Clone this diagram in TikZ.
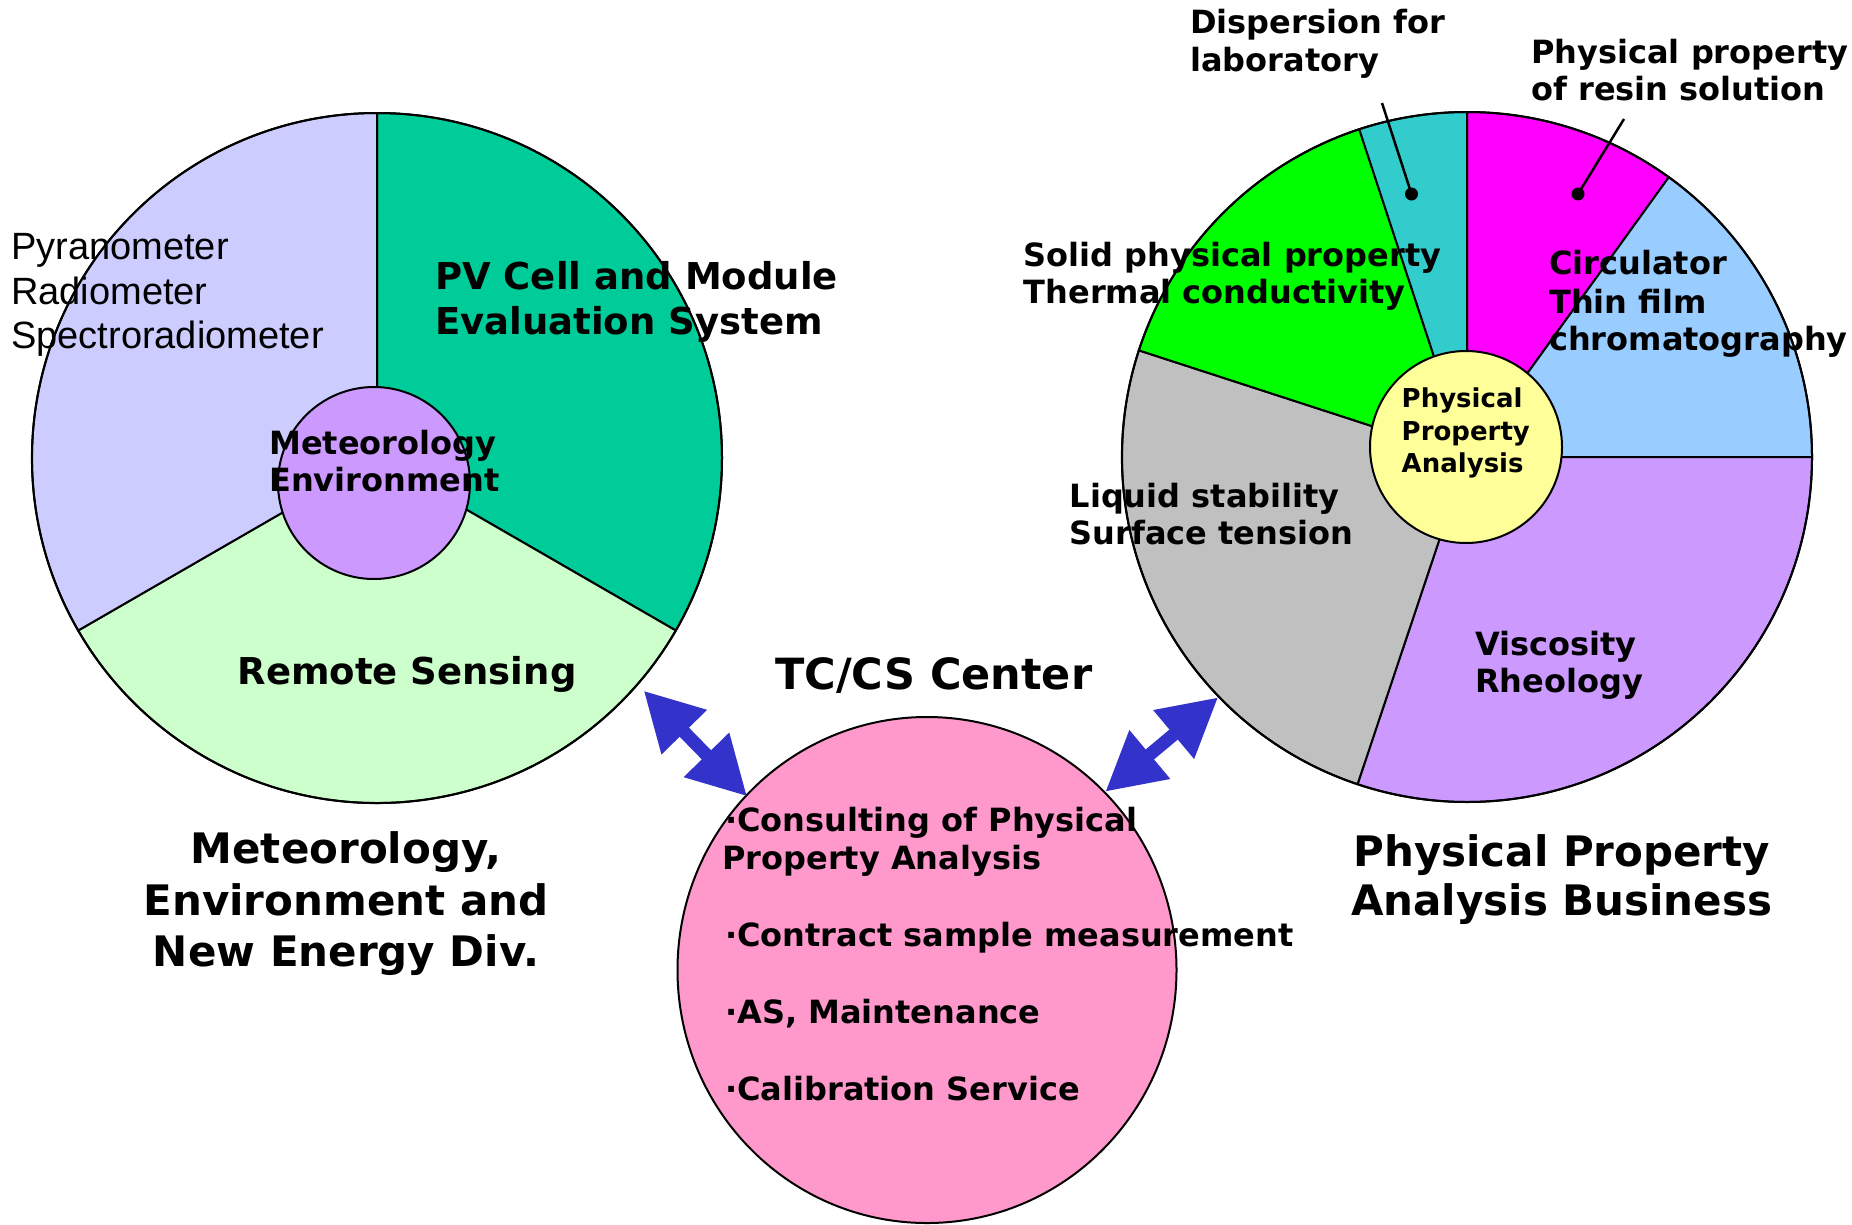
\documentclass[tikz,border=0pt]{standalone}
\usepackage{fontspec}
\setmainfont{DejaVu Sans}
\newfontfamily\arialfont{Liberation Sans}
\usetikzlibrary{arrows.meta,shapes.geometric}
\definecolor{clav}{HTML}{CCCCFF}
\definecolor{cteal}{HTML}{00CC99}
\definecolor{cmint}{HTML}{CCFFCC}
\definecolor{cviolet}{HTML}{CC99FF}
\definecolor{cmag}{HTML}{FF00FF}
\definecolor{csky}{HTML}{99CCFF}
\definecolor{cgray}{HTML}{C0C0C0}
\definecolor{cgreen}{HTML}{00FF00}
\definecolor{ccyan}{HTML}{33CCCC}
\definecolor{cyel}{HTML}{FFFF99}
\definecolor{cpink}{HTML}{FF99CC}
\definecolor{carrow}{HTML}{3333CC}
\tikzset{
  slice/.style={draw=black, line width=2pt, line join=round},
  ring/.style={circle, draw=black, line width=2pt, inner sep=0pt},
  lab/.style={anchor=base west, inner sep=0pt, font=\bfseries\fontsize{32}{38}\selectfont},
  labbig/.style={anchor=base west, inner sep=0pt, font=\bfseries\fontsize{37}{44}\selectfont},
  labsmall/.style={anchor=base west, inner sep=0pt, font=\bfseries\fontsize{26}{32}\selectfont},
  labthin/.style={anchor=base west, inner sep=0pt, font=\arialfont\fontsize{38}{45}\selectfont},
  title/.style={anchor=base, inner sep=0pt, font=\bfseries\fontsize{42}{50}\selectfont},
  leader/.style={draw=black, line width=2.5pt},
  dot/.style={circle, fill=black, inner sep=0pt, minimum size=13pt},
  dblarrow/.style={draw=carrow, line width=13pt,
    {Triangle[length=58pt 0 0, width=60pt 0 0]}-{Triangle[length=58pt 0 0, width=60pt 0 0]}},
}
\begin{document}
\begin{tikzpicture}[x=1pt, y=-1pt]
\useasboundingbox (0,0) rectangle (1852,1224);
\fill[white] (0,0) rectangle (1852,1224);

% ---------- left pie ----------
\filldraw[slice, fill=cteal] (377,458) -- +(270:345) arc[start angle=270, end angle=390, radius=345] -- cycle;
\filldraw[slice, fill=cmint] (377,458) -- +(30:345) arc[start angle=30, end angle=150, radius=345] -- cycle;
\filldraw[slice, fill=clav] (377,458) -- +(150:345) arc[start angle=150, end angle=270, radius=345] -- cycle;
\node[ring, minimum size=690pt] (lpie) at (377,458) {};
\node[ring, fill=cviolet, minimum size=192pt] (linner) at (374,483) {};

% ---------- right pie ----------
\filldraw[slice, fill=cmag] (1467,457) -- +(270:345) arc[start angle=270, end angle=305.8, radius=345] -- cycle;
\filldraw[slice, fill=csky] (1467,457) -- +(305.8:345) arc[start angle=305.8, end angle=360, radius=345] -- cycle;
\filldraw[slice, fill=cviolet] (1467,457) -- +(0:345) arc[start angle=0, end angle=108.5, radius=345] -- cycle;
\filldraw[slice, fill=cgray] (1467,457) -- +(108.5:345) arc[start angle=108.5, end angle=198, radius=345] -- cycle;
\filldraw[slice, fill=cgreen] (1467,457) -- +(198:345) arc[start angle=198, end angle=251.8, radius=345] -- cycle;
\filldraw[slice, fill=ccyan] (1467,457) -- +(251.8:345) arc[start angle=251.8, end angle=270, radius=345] -- cycle;
\node[ring, minimum size=690pt] (rpie) at (1467,457) {};
\node[ring, fill=cyel, minimum size=192pt] (rinner) at (1466,447) {};

% ---------- centre circle ----------
\node[ellipse, draw=black, line width=2pt, inner sep=0pt, fill=cpink,
      minimum width=499pt, minimum height=506pt] (tc) at (927,970) {};

% ---------- arrows ----------
\draw[dblarrow, shorten <=8pt, shorten >=-2pt] (lpie.-41.6) -- (tc.136.5);
\draw[dblarrow] (rpie.224.6) -- (tc.45.4);

% ---------- leaders ----------
\node[dot] (dotcyan) at (1411.5,194) {};
\node[dot] (dotmag) at (1578,194) {};
\coordinate (leadcyan) at (1382,103);
\coordinate (leadmag) at (1624,119);
\draw[leader] (leadcyan) -- (dotcyan.center);
\draw[leader] (leadmag) -- (dotmag.center);

% ---------- left pie texts ----------
\node[labthin] (py1) at (11,259.6) {Pyranometer};
\node[labthin] (py2) at (11,304.5) {Radiometer};
\node[labthin] (py3) at (11,348.6) {Spectroradiometer};
\node[labbig] (pv1) at (435,289.6) {PV Cell and Module};
\node[labbig] (pv2) at (435,334.5) {Evaluation System};
\node[lab] (me1) at (269,454) {Meteorology};
\node[lab] (me2) at (269,491.8) {Environment};
\node[labbig] (rs) at (237.5,684) {Remote Sensing};

% ---------- right pie texts ----------
\node[lab] (di1) at (1190,33.2) {Dispersion for};
\node[lab] (di2) at (1190,71.4) {laboratory};
\node[lab] (re1) at (1531,63.6) {Physical property};
\node[lab] (re2) at (1531,100.7) {of resin solution};
\node[lab] (so1) at (1023.5,266.6) {Solid physical property};
\node[lab] (so2) at (1023.5,303.7) {Thermal conductivity};
\node[lab] (ci1) at (1549,274.4) {Circulator};
\node[lab] (ci2) at (1549,313.4) {Thin film};
\node[lab] (ci3) at (1549,350.1) {chromatography};
\node[lab] (li1) at (1069.5,507.4) {Liquid stability};
\node[lab] (li2) at (1069.5,544.5) {Surface tension};
\node[lab] (vi1) at (1475,655) {Viscosity};
\node[lab] (vi2) at (1475,692.7) {Rheology};
\node[labsmall] (pp1) at (1401.5,407.9) {Physical};
\node[labsmall] (pp2) at (1401.5,440.3) {Property};
\node[labsmall] (pp3) at (1401.5,472.3) {Analysis};

% ---------- centre texts ----------
\node[anchor=base west, inner sep=0pt, font=\bfseries\fontsize{43}{51}\selectfont] (tct) at (775,689.3) {TC/CS Center};
\node[lab] (b1a) at (725,831.3) {·Consulting of Physical};
\node[lab] (b1b) at (722,869.8) {Property Analysis};
\node[lab] (b2) at (725,946.7) {·Contract sample measurement};
\node[lab] (b3) at (725,1023.5) {·AS, Maintenance};
\node[lab] (b4) at (725,1100.4) {·Calibration Service};

% ---------- titles ----------
\node[title] (lt1) at (346,863) {Meteorology,};
\node[title] (lt2) at (346,915) {Environment and};
\node[title] (lt3) at (346,966.7) {New Energy Div.};
\node[title] (rt1) at (1561.7,866.7) {Physical Property};
\node[title] (rt2) at (1561.7,915) {Analysis Business};
\end{tikzpicture}
\end{document}
